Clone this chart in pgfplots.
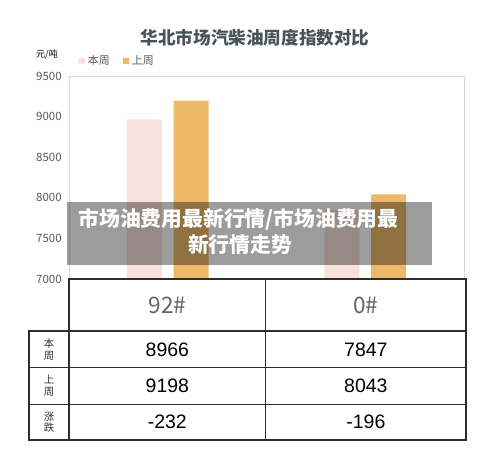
\documentclass[border=0pt]{standalone}
\usepackage{pgfplots}
\pgfplotsset{compat=1.18}
\usepackage{fontspec}
\setmainfont{Noto Sans CJK SC}
\newfontfamily\arialf{Liberation Sans}
\definecolor{pinkbar}{RGB}{247,225,218}
\definecolor{orangebar}{RGB}{236,185,106}
\definecolor{titlec}{RGB}{72,84,90}
\definecolor{tickc}{RGB}{89,89,89}
\definecolor{framec}{RGB}{217,217,217}
\definecolor{headc}{RGB}{90,104,110}
\definecolor{linec}{RGB}{45,45,45}
\begin{document}
\begin{tikzpicture}
\path[use as bounding box] (0,0) rectangle (375pt,351pt);
\fill[white] (0,0) rectangle (375pt,351pt);
\begin{axis}[
  at={(51.75pt,141.75pt)}, anchor=south west,
  width=296.25pt, height=152.25pt, scale only axis,
  ymin=7000, ymax=9500, ytick={7000,7500,8000,8500,9000,9500},
  xmin=-0.5, xmax=1.5, xtick=\empty,
  axis line style={framec, line width=0.6pt},
  major tick length=0pt,
  /pgf/number format/assume math mode=true,
  yticklabel style={/pgf/number format/1000 sep={}, font=\fontsize{8.6}{10}\selectfont, text=tickc, xshift=-2pt},
  legend columns=2,
  legend style={at={(0.025,1.074)}, anchor=west, draw=none, fill=none, inner sep=0pt,
    font=\fontsize{8.2}{10}\selectfont, text=tickc,
    /tikz/every even column/.append style={column sep=8pt}},
  legend cell align=left,
]
\addplot[ybar, bar width=26.25pt, bar shift=-17.6pt, fill=pinkbar, draw=none,
  legend image code/.code={\fill[pinkbar] (0pt,-2.3pt) rectangle (4.6pt,2.3pt);}]
  coordinates {(0,8966) (1,7847)};
\addlegendentry{本周}
\addplot[ybar, bar width=26.25pt, bar shift=17.6pt, fill=orangebar, draw=none,
  legend image code/.code={\fill[orangebar] (0pt,-2.3pt) rectangle (4.6pt,2.3pt);}]
  coordinates {(0,9198) (1,8043)};
\addlegendentry{上周}
\end{axis}
% title and unit
\node[font=\bfseries\fontsize{13.2}{15}\selectfont, text=titlec] at (191.25pt,322.5pt) {华北市场汽柴油周度指数对比};
\node[font=\fontsize{6.8}{8}\selectfont, text=black] at (35.25pt,309.75pt) {元/吨};
% table
\begin{scope}[draw=linec, line width=0.9pt]
\draw (51.75pt,141.75pt) rectangle (349.5pt,21pt);
\draw (199.25pt,141.75pt) -- (199.25pt,21pt);
\draw (21.75pt,102.75pt) rectangle (51.75pt,21pt);
\draw (21.75pt,102.75pt) -- (349.5pt,102.75pt);
\draw (21.75pt,75.2pt) -- (349.5pt,75.2pt);
\draw (21.75pt,47.8pt) -- (349.5pt,47.8pt);
\end{scope}
\node[font=\fontsize{17}{20}\selectfont, text=headc] at (125.5pt,122.25pt) {92\#};
\node[font=\fontsize{17}{20}\selectfont, text=headc] at (274.4pt,122.25pt) {0\#};
\node[font=\arialf\fontsize{14.6}{17}\selectfont] at (125.5pt,89pt) {8966};
\node[font=\arialf\fontsize{14.6}{17}\selectfont] at (274.4pt,89pt) {7847};
\node[font=\arialf\fontsize{14.6}{17}\selectfont] at (125.5pt,61.5pt) {9198};
\node[font=\arialf\fontsize{14.6}{17}\selectfont] at (274.4pt,61.5pt) {8043};
\node[font=\arialf\fontsize{14.6}{17}\selectfont] at (125.5pt,34.4pt) {-232};
\node[font=\arialf\fontsize{14.6}{17}\selectfont] at (274.4pt,34.4pt) {-196};
\node[font=\fontsize{7.8}{8.8}\selectfont, align=center, text=black!80] at (36.75pt,89pt) {本\\周};
\node[font=\fontsize{7.8}{8.8}\selectfont, align=center, text=black!80] at (36.75pt,61.5pt) {上\\周};
\node[font=\fontsize{7.8}{8.8}\selectfont, align=center, text=black!80] at (36.75pt,34.4pt) {涨\\跌};
% overlay banner
\fill[black, opacity=0.39] (50.25pt,152.5pt) rectangle (324pt,199.7pt);
\node[font=\bfseries\fontsize{15.6}{19}\selectfont, text=white] at (178.9pt,186.5pt) {市场油费用最新行情/市场油费用最};
\node[font=\bfseries\fontsize{15.6}{19}\selectfont, text=white] at (180pt,167.25pt) {新行情走势};
\end{tikzpicture}
\end{document}
